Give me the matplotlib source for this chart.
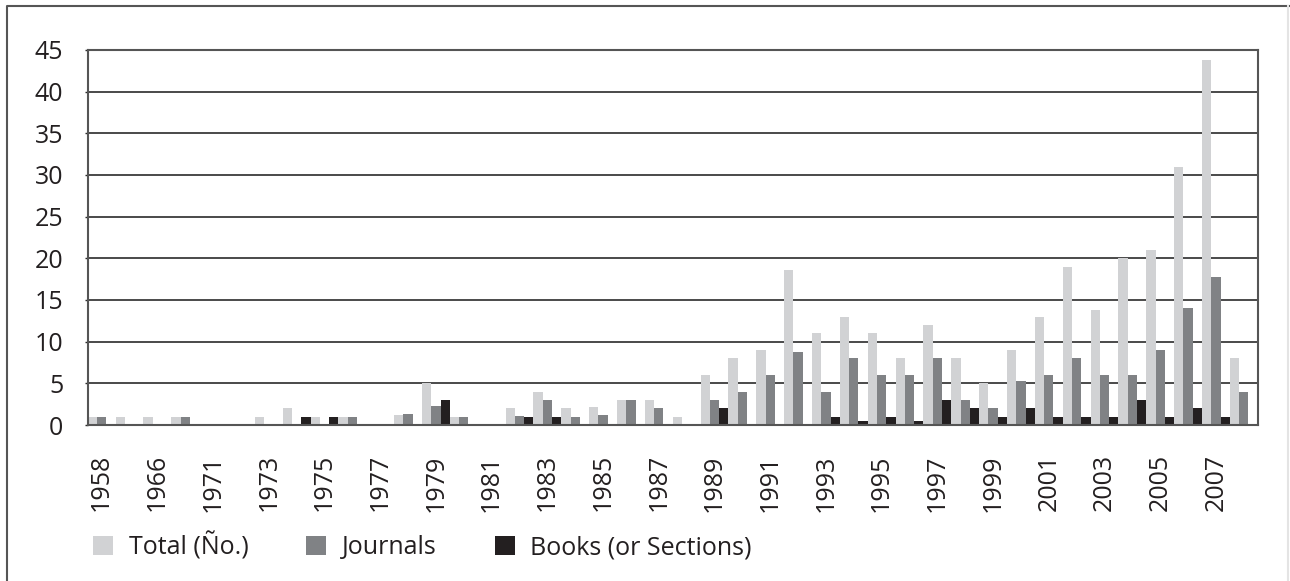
import matplotlib
matplotlib.use("Agg")
import matplotlib.pyplot as plt
from matplotlib.lines import Line2D
import numpy as np

plt.rcParams['font.family'] = ['Open Sans', 'DejaVu Sans']

# categories (only every second one is labelled on the axis)
years = ['1958', '1965', '1966', '1968', '1971', '1972', '1973', '1974', '1975', '1976',
         '1977', '1978', '1979', '1980', '1981', '1982', '1983', '1984', '1985', '1986',
         '1987', '1988', '1989', '1990', '1991', '1992', '1993', '1994', '1995', '1996',
         '1997', '1998', '1999', '2000', '2001', '2002', '2003', '2004', '2005', '2006',
         '2007', '2008']

total = [1, 1, 1, 1, 0, 0, 1, 2, 1, 1, 0, 1.2, 5, 1, 0, 2, 4, 2, 2.2, 3,
         3, 1, 6, 8, 9, 18.6, 11, 13, 11, 8, 12, 8, 5, 9, 13, 19, 13.8, 20, 21, 31,
         43.8, 8]
journals = [1, 0, 0, 1, 0, 0, 0, 0, 0, 1, 0, 1.3, 2.3, 1, 0, 1.1, 3, 1, 1.2, 3,
            2, 0, 3, 4, 6, 8.7, 4, 8, 6, 6, 8, 3, 2, 5.3, 6, 8, 6, 6, 9, 14,
            17.8, 4]
books = [0, 0, 0, 0, 0, 0, 0, 1, 1, 0, 0, 0, 3, 0, 0, 1, 1, 0, 0, 0,
         0, 0, 2, 0, 0, 0, 1, 0.5, 1, 0.5, 3, 2, 1, 2, 1, 1, 1, 3, 1, 2,
         1, 0]

series_names = ['Total (Ño.)', 'Journals', 'Books (or Sections)']
colors = ['#d1d2d4', '#808285', '#231f20']

fs = 18

fig = plt.figure(figsize=(12.9, 5.81), dpi=100)
ax = fig.add_axes([0.068, 0.2685, 0.907, 0.6455])

x = np.arange(len(years))
w = 1 / 3
for k, (vals, name, c) in enumerate(zip([total, journals, books], series_names, colors)):
    ax.bar(x + (k - 1) * w, vals, width=w, color=c, label=name, linewidth=0)

ax.set_xlim(-0.5, len(years) - 0.5)
ax.set_ylim(0, 45)
ax.set_yticks(range(0, 46, 5))
ax.set_xticks(x[::2])
ax.set_xticklabels(years[::2], rotation=90)

ax.set_axisbelow(True)
ax.yaxis.grid(True, color='#2b2b2b', linewidth=1.2)
for s in ax.spines.values():
    s.set_color('#555555')
    s.set_linewidth(1.5)

ax.tick_params(axis='y', length=2, width=1, color='#2b2b2b', pad=15.5, labelsize=fs, labelcolor='#231f20')
ax.tick_params(axis='x', length=0, pad=21, labelsize=fs, labelcolor='#231f20')

ax.legend(loc='center left', bbox_to_anchor=(93 / 1290, 1 - 546 / 581), bbox_transform=fig.transFigure,
          ncol=3, frameon=False, fontsize=fs, handlelength=0.8, handleheight=0.8,
          handletextpad=0.64, columnspacing=2.3, borderpad=0, borderaxespad=0,
          labelcolor='#231f20')

# outer frame (left and top edges only)
fx = 7 / 1290
fy = 1 - 6 / 581
fig.add_artist(Line2D([fx, fx, 1], [0, fy, fy], transform=fig.transFigure,
                      color='#555555', linewidth=1.5))
fig.add_artist(Line2D([1288 / 1290, 1288 / 1290], [0, fy], transform=fig.transFigure,
                      color='#e4e4e4', linewidth=1.5))

fig.savefig('out.png', dpi=100)
